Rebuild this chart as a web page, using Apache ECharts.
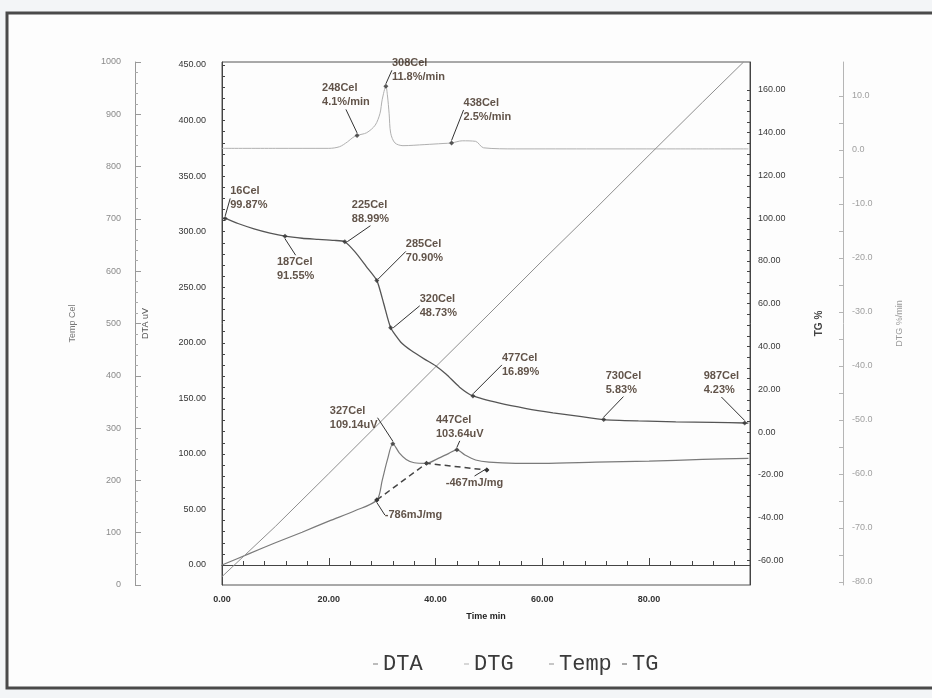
<!DOCTYPE html>
<html lang="en">
<head>
    <meta http-equiv="Content-Type" content="text/html; charset=utf-8"/>
    <title>DTA / TG</title>
    <script type="text/javascript" src="https://cdn.jsdelivr.net/npm/echarts@6/dist/echarts.min.js"></script>
</head>
<body style="margin: 0; background: #f3f5f7">
<div id="container" style="width: 932px; height: 698px"></div>
<script type="text/javascript">
    // tick labels
    var timeTicks = [0, 20, 40, 60, 80];
    var dtaTicks = [0, 50, 100, 150, 200, 250, 300, 350, 400, 450];
    var tempTicks = [0, 100, 200, 300, 400, 500, 600, 700, 800, 900, 1000];
    var tgTicks = [-60, -40, -20, 0, 20, 40, 60, 80, 100, 120, 140, 160];
    var dtgTicks = [-80, -70, -60, -50, -40, -30, -20, -10, 0, 10];
    var legendNames = ['DTA', 'DTG', 'Temp', 'TG'];

    // TG %
    var tgTime = [0, 0.6, 3, 6, 9, 11.8, 15, 18, 21, 23, 25, 27, 29, 30.3, 31.6, 33.5, 35.5, 38, 40, 42, 44.5, 47,
        52, 57, 62, 67, 71.5, 78, 85, 92, 97.9, 98.6];
    var tgValue = [99.95, 99.87, 97.5, 95, 93, 91.55, 90.6, 90.1, 89.6, 88.99, 84, 77.5, 70.9, 60, 48.73, 42, 38, 34,
        31, 27, 21, 16.89, 13.5, 11, 9, 7.3, 5.83, 5.2, 4.8, 4.5, 4.23, 4.2];

    // DTA uV
    var dtaTime = [0, 5, 10, 15, 20, 25, 29, 30, 31, 32, 33.2, 34.5, 36, 38.3, 40.5, 42.5, 44, 45.5, 47.5, 50, 55,
        60, 70, 80, 90, 98.6];
    var dtaValue = [0, 10, 20, 29.5, 39.5, 49, 58.5, 76, 95, 109.14, 101, 95, 92, 91.5, 96, 100.5, 103.64, 99, 94.5,
        92.5, 91.5, 91.5, 92.5, 93.5, 95, 96];

    // DTG %/min
    var dtgTime = [0, 10, 20, 22, 23.5, 24.5, 25.3, 27.1, 28.7, 29.6, 30, 30.7, 31, 31.3, 31.6, 32.4, 33.9, 38, 41.4,
        43, 45, 47.5, 49, 55, 70, 85, 98.6];
    var dtgValue = [0.3, 0.3, 0.3, 0.6, 1.5, 2.3, 2.7, 3.2, 4.6, 6.8, 9.3, 11.8, 10, 6.8, 3.1, 1.3, 0.8, 1, 1.2, 1.3,
        1.7, 1.6, 0.4, 0.2, 0.2, 0.2, 0.2];

    // Temp Cel
    var tempTime = [0, 10, 20, 30, 40, 50, 60, 70, 80, 90, 97.7];
    var tempValue = [16, 112, 213, 315, 417, 518, 620, 720, 822, 923, 1000];

    // DTA peak baselines (dashed)
    var baseTime = [29, 38.3, 49.6];
    var baseValue = [58.5, 91.5, 85.5];

    // annotations: time, value, text
    var tgNotes = [
        [0.6, 99.87, '16Cel\n99.87%'],
        [11.8, 91.55, '187Cel\n91.55%'],
        [23, 88.99, '225Cel\n88.99%'],
        [29, 70.9, '285Cel\n70.90%'],
        [31.6, 48.73, '320Cel\n48.73%'],
        [47, 16.89, '477Cel\n16.89%'],
        [71.5, 5.83, '730Cel\n5.83%'],
        [97.9, 4.23, '987Cel\n4.23%']
    ];
    var dtaNotes = [
        [32, 109.14, '327Cel\n109.14uV'],
        [44, 103.64, '447Cel\n103.64uV'],
        [29, 58.5, '-786mJ/mg'],
        [49.6, 85.5, '-467mJ/mg']
    ];
    var dtgNotes = [
        [25.3, 2.7, '248Cel\n4.1%/min'],
        [30.7, 11.8, '308Cel\n11.8%/min'],
        [43, 1.3, '438Cel\n2.5%/min']
    ];
    // label shifts in px (left-middle of text relative to the point)
    var tgShift = [[5, -20], [-8, 33], [7, -30], [29, -29], [29, -22], [29, -31], [2, -37], [-41, -40]];
    var dtaShift = [[-63, -26], [-21, -23], [8, 15], [-41, 13]];
    var dtgShift = [[-35, -40], [6, -16], [12, -33]];
    // legend item left edges
    var legendLeft = [368, 459, 544, 617];

    function pairs(xs, ys) {
        var out = [];
        for (var i = 0; i < xs.length; i++) out.push([xs[i], ys[i]]);
        return out;
    }

    function steps(list, step) {
        var out = [];
        for (var v = list[0]; v <= list[list.length - 1] + 1e-9; v += step) out.push(v);
        return out;
    }

    function noteSeries(notes, shift, yIndex) {
        return {
            type: 'scatter',
            yAxisIndex: yIndex,
            symbol: 'diamond',
            symbolSize: 5,
            itemStyle: {color: '#333'},
            silent: true,
            z: 5,
            data: notes.map(function (n) { return {value: [n[0], n[1]], name: n[2]}; }),
            label: {
                show: true,
                position: 'inside',
                align: 'left',
                verticalAlign: 'middle',
                formatter: '{b}',
                fontFamily: 'Liberation Sans',
                fontWeight: 'bold',
                fontSize: 11,
                lineHeight: 14,
                color: '#3a281b'
            },
            labelLine: {show: true, lineStyle: {color: '#333', width: 1}},
            labelLayout: function (p) {
                var s = shift[p.dataIndex];
                return {dx: s[0], dy: s[1]};
            }
        };
    }

    function tickStyle(color, len) {
        return {show: true, inside: true, length: len, lineStyle: {color: color, width: 1}};
    }

    var dom = document.getElementById('container');
    var myChart = echarts.init(dom);

    var option = {
        backgroundColor: '#f3f5f7',
        animation: false,
        graphic: [{
            type: 'rect',
            z: -10,
            shape: {x: 7, y: 13, width: 940, height: 675},
            style: {fill: '#fdfdfd', stroke: '#4a4a4a', lineWidth: 3}
        }],
        grid: {left: 222, right: 182, top: 62, bottom: 113, show: true, borderColor: '#555', borderWidth: 1},
        legend: legendNames.map(function (n, i) {
            return {
                data: [n],
                left: legendLeft[i],
                top: 648,
                icon: 'rect',
                itemWidth: 5,
                itemHeight: 1,
                textStyle: {fontFamily: 'Liberation Mono', fontSize: 22, color: '#3a3a3a'}
            };
        }),
        xAxis: {
            type: 'value',
            min: 0,
            max: 98.9,
            interval: 20,
            name: 'Time min',
            nameLocation: 'middle',
            nameGap: 27,
            nameTextStyle: {fontFamily: 'Liberation Sans', fontWeight: 'bold', fontSize: 9, color: '#222'},
            axisLine: {lineStyle: {color: '#444'}},
            axisTick: tickStyle('#444', 7),
            minorTick: {show: true, splitNumber: 5, length: 4, lineStyle: {color: '#444'}},
            axisLabel: {
                customValues: timeTicks,
                margin: 10, fontFamily: 'Liberation Sans', fontWeight: 'bold', fontSize: 9, color: '#333',
                formatter: function (v) { return v.toFixed(2); }
            },
            splitLine: {show: false}
        },
        yAxis: [{
            type: 'value',
            position: 'left',
            min: -18,
            max: 452.7,
            name: 'DTA uV',
            nameLocation: 'middle',
            nameRotate: 90,
            nameGap: 72,
            nameTextStyle: {fontFamily: 'Liberation Sans', fontSize: 9, color: '#555'},
            axisLine: {show: true, lineStyle: {color: '#444'}},
            axisTick: {show: true, inside: true, length: 3, customValues: steps(dtaTicks, 10),
                lineStyle: {color: '#444'}},
            axisLabel: {
                customValues: dtaTicks, margin: 16, fontFamily: 'Liberation Sans', fontSize: 9, color: '#333',
                formatter: function (v) { return v.toFixed(2); }
            },
            splitLine: {show: false}
        }, {
            type: 'value',
            position: 'left',
            offset: 87,
            min: 0,
            max: 1000,
            interval: 100,
            name: 'Temp Cel',
            nameLocation: 'middle',
            nameRotate: 90,
            nameGap: 58,
            nameTextStyle: {fontFamily: 'Liberation Sans', fontSize: 9, color: '#777'},
            axisLine: {show: true, lineStyle: {color: '#999'}},
            axisTick: tickStyle('#999', 6),
            minorTick: {show: true, splitNumber: 5, length: 3, lineStyle: {color: '#aaa'}},
            axisLabel: {
                customValues: tempTicks,
                margin: 14, fontFamily: 'Liberation Sans', fontSize: 9, color: '#8a8a8a',
                formatter: function (v) { return String(v); }
            },
            splitLine: {show: false}
        }, {
            type: 'value',
            position: 'right',
            min: -71.5,
            max: 173,
            name: 'TG %',
            nameLocation: 'middle',
            nameRotate: 90,
            nameGap: 64,
            nameTextStyle: {fontFamily: 'Liberation Sans', fontWeight: 'bold', fontSize: 10, color: '#444'},
            axisLine: {show: true, lineStyle: {color: '#444'}},
            axisTick: {show: true, inside: true, length: 3, customValues: steps(tgTicks, 5),
                lineStyle: {color: '#444'}},
            axisLabel: {
                customValues: tgTicks, margin: 8, fontFamily: 'Liberation Sans', fontSize: 9, color: '#3a3a3a',
                formatter: function (v) { return v.toFixed(2); }
            },
            splitLine: {show: false}
        }, {
            type: 'value',
            position: 'right',
            offset: 93,
            min: -80.6,
            max: 16.3,
            name: 'DTG %/min',
            nameLocation: 'middle',
            nameRotate: 90,
            nameGap: 52,
            nameTextStyle: {fontFamily: 'Liberation Sans', fontSize: 9, color: '#999'},
            axisLine: {show: true, lineStyle: {color: '#b5b5b5'}},
            axisTick: {show: true, inside: true, length: 4, customValues: steps(dtgTicks, 5),
                lineStyle: {color: '#b5b5b5'}},
            axisLabel: {
                customValues: dtgTicks, margin: 9, fontFamily: 'Liberation Sans', fontSize: 9, color: '#a0a0a0',
                formatter: function (v) { return v.toFixed(1); }
            },
            splitLine: {show: false}
        }],
        series: [{
            name: 'DTA',
            type: 'line',
            yAxisIndex: 0,
            showSymbol: false,
            smooth: 0.3,
            lineStyle: {color: '#7a7a7a', width: 1.2},
            itemStyle: {color: '#7a7a7a'},
            data: pairs(dtaTime, dtaValue)
        }, {
            name: 'DTG',
            type: 'line',
            yAxisIndex: 3,
            showSymbol: false,
            smooth: 0.3,
            lineStyle: {color: '#b0b0b0', width: 1},
            itemStyle: {color: '#b0b0b0'},
            data: pairs(dtgTime, dtgValue)
        }, {
            name: 'Temp',
            type: 'line',
            yAxisIndex: 1,
            showSymbol: false,
            lineStyle: {color: '#8e8e8e', width: 1},
            itemStyle: {color: '#8e8e8e'},
            data: pairs(tempTime, tempValue)
        }, {
            name: 'TG',
            type: 'line',
            yAxisIndex: 2,
            showSymbol: false,
            smooth: 0.2,
            lineStyle: {color: '#555', width: 1.3},
            itemStyle: {color: '#555'},
            data: pairs(tgTime, tgValue)
        }, {
            type: 'line',
            yAxisIndex: 0,
            showSymbol: true,
            symbol: 'diamond',
            symbolSize: 5,
            lineStyle: {color: '#444', width: 1.5, type: [6, 4]},
            itemStyle: {color: '#444'},
            data: pairs(baseTime, baseValue)
        },
            noteSeries(tgNotes, tgShift, 2),
            noteSeries(dtaNotes, dtaShift, 0),
            noteSeries(dtgNotes, dtgShift, 3)
        ]
    };

    if (option && typeof option === "object") {
        myChart.setOption(option, true);
    }
</script>
</body>
</html>
